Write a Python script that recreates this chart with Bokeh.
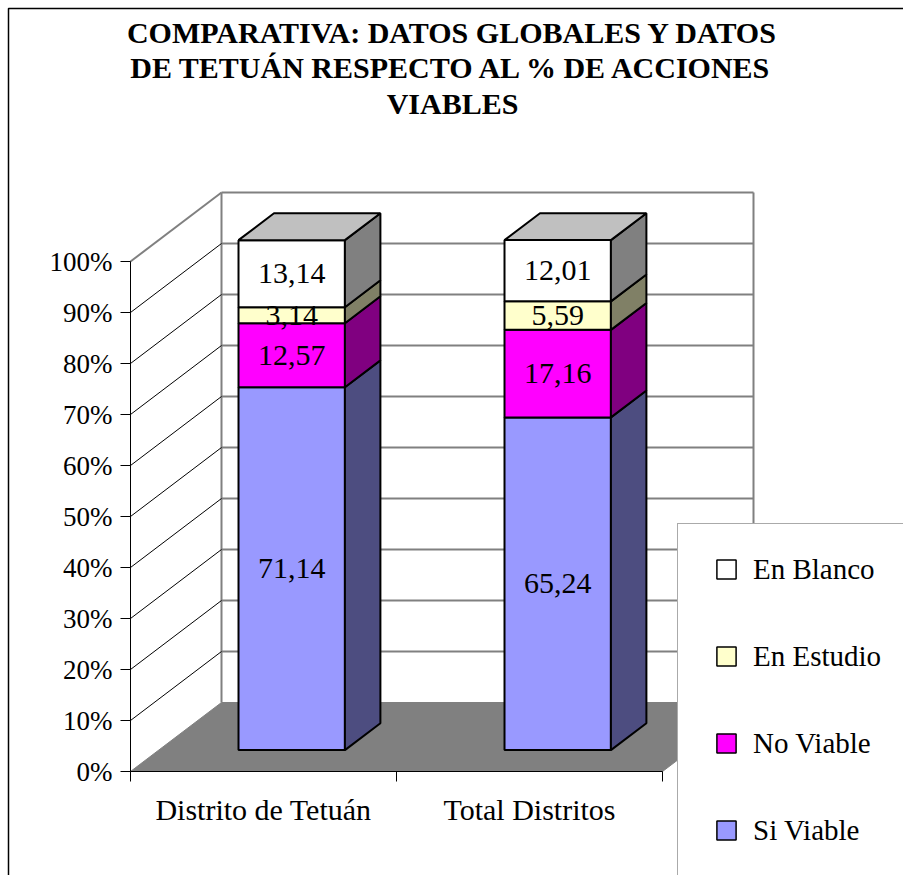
from bokeh.plotting import figure
from bokeh.models import Range1d, FixedTicker, PrintfTickFormatter, Legend, LegendItem, ColumnDataSource
from bokeh.core.properties import value
from bokeh.embed import file_html
from bokeh.resources import INLINE

# ---------------- data ----------------
categories = ["Distrito de Tetuán", "Total Distritos"]
series_names = ["Si Viable", "No Viable", "En Estudio", "En Blanco"]
si_viable = [71.14, 65.24]
no_viable = [12.57, 17.16]
en_estudio = [3.14, 5.59]
en_blanco = [13.14, 12.01]
y_ticks = [0, 10, 20, 30, 40, 50, 60, 70, 80, 90, 100]
title_lines = ["COMPARATIVA: DATOS GLOBALES Y DATOS",
               "DE TETUÁN RESPECTO AL % DE ACCIONES",
               "VIABLES"]

# ---------------- styles ----------------
front_colors = ["#9999FF", "#FF00FF", "#FFFFCC", "#FFFFFF"]
side_colors = ["#4D4D80", "#800080", "#808066", "#808080"]
top_color = "#C0C0C0"
FONT = "Liberation Serif"

# ---------------- layout (pixels of the picture) ----------------
W, H = 903, 875
AX_X, AX_Y = 130, 771          # picture position of the front axes origin
PX_PER_CAT = 266
PX_PER_PCT = 5.1
DEPTH_PX = (91, 69)
BAR_WIDTH = 0.4
BAR_DEPTH = 0.39
BAR_OFFSET = 0.31
BORDER = 8

DX = DEPTH_PX[0] / PX_PER_CAT
DY = DEPTH_PX[1] / PX_PER_PCT


def px_x(x):
    return (x - AX_X) / PX_PER_CAT


def px_y(y):
    return (AX_Y - y) / PX_PER_PCT


p = figure(width=W, height=H,
           x_range=Range1d(px_x(0), px_x(W)), y_range=Range1d(px_y(H), px_y(0)),
           output_backend="svg", toolbar_location=None,
           min_border=0, min_border_left=0, min_border_bottom=0,
           min_border_top=0, min_border_right=0)
p.xgrid.visible = False
p.ygrid.visible = False
p.outline_line_color = None
p.background_fill_color = "white"
p.border_fill_color = "white"

ncat = len(categories)
ymax = y_ticks[-1]

# chart-area border (its left and top edges lie inside the picture)
p.line([px_x(BORDER), px_x(BORDER), px_x(W + 5)], [px_y(H + 5), px_y(BORDER), px_y(BORDER)],
       line_color="black", line_width=1.5)

# floor
p.patch([0, DX, ncat + DX, ncat], [0, DY, DY, 0], fill_color="#808080", line_color="#808080", line_width=1)
# back wall edges
p.multi_line(xs=[[DX, DX], [ncat + DX, ncat + DX]], ys=[[DY, DY + ymax], [DY, DY + ymax]],
             line_color="#808080", line_width=2)
# back wall gridlines
p.multi_line(xs=[[DX, ncat + DX] for t in y_ticks[1:]], ys=[[DY + t, DY + t] for t in y_ticks[1:]],
             line_color="#808080", line_width=2)
# side wall gridlines
p.multi_line(xs=[[0, DX] for t in y_ticks[1:-1]], ys=[[t, DY + t] for t in y_ticks[1:-1]],
             line_color="black", line_width=1)
p.line([0, DX], [ymax, DY + ymax], line_color="#808080", line_width=2)

# stacked 3-D bars
stack = [si_viable, no_viable, en_estudio, en_blanco]
ox, oy = BAR_OFFSET * DX, BAR_OFFSET * DY
sx, sy = BAR_DEPTH * DX, BAR_DEPTH * DY
centers = [i + 0.5 for i in range(ncat)]
cum = [0.0] * ncat
side_xs, side_ys, side_fill = [], [], []
lab_x, lab_y, lab_t = [], [], []
for k, vals in enumerate(stack):
    bottoms = cum[:]
    tops = [b + v for b, v in zip(bottoms, vals)]
    left = [c - BAR_WIDTH / 2 + ox for c in centers]
    right = [c + BAR_WIDTH / 2 + ox for c in centers]
    src = ColumnDataSource(dict(left=left, right=right,
                                bottom=[b + oy for b in bottoms], top=[t + oy for t in tops]))
    p.quad(left="left", right="right", bottom="bottom", top="top", source=src,
           fill_color=front_colors[k], line_color="black", line_width=2)
    for i in range(ncat):
        b, t, rr = bottoms[i] + oy, tops[i] + oy, right[i]
        side_xs.append([rr, rr + sx, rr + sx, rr])
        side_ys.append([b, b + sy, t + sy, t])
        side_fill.append(side_colors[k])
        lab_x.append(centers[i] + ox)
        lab_y.append((bottoms[i] + tops[i]) / 2 + oy)
        lab_t.append(f"{vals[i]:.2f}".replace(".", ","))
    cum = tops

p.patches(xs=side_xs, ys=side_ys, fill_color=side_fill, line_color="black", line_width=2)
top_xs, top_ys = [], []
for i in range(ncat):
    l, r_, t = centers[i] - BAR_WIDTH / 2 + ox, centers[i] + BAR_WIDTH / 2 + ox, cum[i] + oy
    top_xs.append([l, l + sx, r_ + sx, r_])
    top_ys.append([t, t + sy, t + sy, t])
p.patches(xs=top_xs, ys=top_ys, fill_color=top_color, line_color="black", line_width=2)

# data labels
p.text(x=lab_x, y=lab_y, text=lab_t, text_font=value(FONT), text_font_size="30px",
       text_align="center", text_baseline="middle", text_color="black")

# title
p.text(x=[px_x(452)] * 3, y=[px_y(32), px_y(67), px_y(103)], text=title_lines,
       text_font=value(FONT), text_font_style="bold", text_font_size="30px",
       text_align="center", text_baseline="middle", text_color="black")

# axes (drawn at the front plane of the 3-D box)
p.yaxis.fixed_location = 0
p.yaxis.ticker = FixedTicker(ticks=y_ticks, minor_ticks=[])
p.yaxis.formatter = PrintfTickFormatter(format="%d%%")
p.yaxis.bounds = (0, ymax)
p.yaxis.major_tick_out = 10
p.yaxis.major_tick_in = 0
p.yaxis.major_tick_line_color = "black"
p.yaxis.axis_line_color = "black"
p.yaxis.major_label_standoff = 8
p.yaxis.major_label_text_font = FONT
p.yaxis.major_label_text_font_size = "27px"
p.yaxis.major_label_text_color = "black"

p.xaxis.fixed_location = 0
p.xaxis.ticker = FixedTicker(ticks=centers, minor_ticks=list(range(ncat + 1)))
p.xaxis.major_label_overrides = {c: name for c, name in zip(centers, categories)}
p.xaxis.bounds = (0, ncat)
p.xaxis.major_tick_out = 0
p.xaxis.major_tick_in = 0
p.xaxis.minor_tick_out = 10
p.xaxis.minor_tick_in = 0
p.xaxis.minor_tick_line_color = "black"
p.xaxis.axis_line_color = "black"
p.xaxis.major_label_standoff = 11
p.xaxis.major_label_text_font = FONT
p.xaxis.major_label_text_font_size = "30px"
p.xaxis.major_label_text_color = "black"

# legend (square swatches)
nan = float("nan")
swatches = [p.scatter(x="x", y="y", source=ColumnDataSource(dict(x=[nan], y=[nan])), marker="square", size=19,
                      fill_color=front_colors[k], line_color="black", line_width=1.5)
            for k in range(len(stack))]
LEG_PAD, LEG_GLYPH_W, LEG_GLYPH_H, LEG_SPACING = 21, 54, 48, 39
leg_h = 2 * LEG_PAD + 4 * LEG_GLYPH_H + 3 * LEG_SPACING
leg_left, leg_top = 677, 525
items = [LegendItem(label=series_names[k], renderers=[swatches[k]]) for k in reversed(range(len(stack)))]
legend = Legend(items=items, location=(leg_left, H - (leg_top + leg_h)),
                padding=LEG_PAD, spacing=LEG_SPACING, margin=0,
                glyph_width=LEG_GLYPH_W, glyph_height=LEG_GLYPH_H, label_height=30, label_width=220,
                label_standoff=0, label_text_font=FONT, label_text_font_size="29px",
                label_text_color="black", border_line_color="#555555", border_line_width=1.5,
                background_fill_color="white", background_fill_alpha=1.0)
p.add_layout(legend)

open("out.html", "w").write(file_html(p, INLINE))
